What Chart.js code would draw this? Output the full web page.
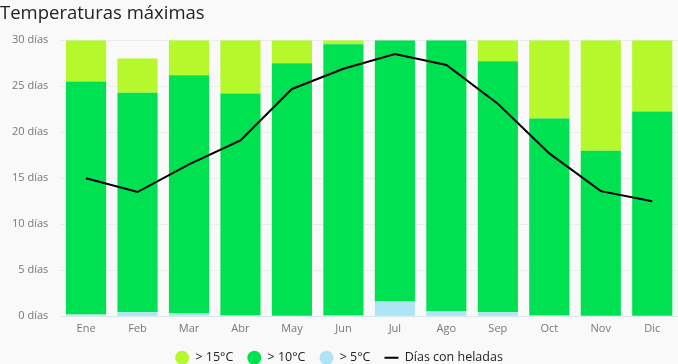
<!DOCTYPE html>
<html>
<head>
<meta charset="utf-8">
<script src="https://cdn.jsdelivr.net/npm/chart.js@4/dist/chart.umd.min.js"></script>
<style>
  html, body { margin: 0; padding: 0; background: #f9f9f9; }
  #wrap { width: 678px; height: 364px; }
</style>
</head>
<body>
<div id="wrap"><canvas id="graph" width="678" height="364"></canvas></div>
<script>
const months = ['Ene', 'Feb', 'Mar', 'Abr', 'May', 'Jun', 'Jul', 'Ago', 'Sep', 'Oct', 'Nov', 'Dic'];

// days per month, stacked from bottom
const over5 = [0.2, 0.45, 0.3, 0.1, 0, 0.1, 1.6, 0.55, 0.45, 0.1, 0, 0];
const over10 = [25.3, 23.85, 25.9, 24.1, 27.5, 29.45, 28.4, 29.45, 27.25, 21.4, 18.0, 22.25];
const over15 = [4.5, 3.7, 3.8, 5.8, 2.5, 0.45, 0, 0, 2.3, 8.5, 12.0, 7.75];
const frostDays = [15.0, 13.5, 16.5, 19.1, 24.7, 26.9, 28.5, 27.3, 23.1, 17.7, 13.6, 12.5];

const legendOrder = ['> 15°C', '> 10°C', '> 5°C', 'Días con heladas'];

const config = {
  type: 'bar',
  data: {
    labels: months,
    datasets: [
      {
        label: '> 5°C',
        backgroundColor: '#aee5f5',
        data: over5,
        stack: 'temp',
        order: 1,
        pointStyle: 'circle'
      }, {
        label: '> 10°C',
        backgroundColor: '#00e151',
        data: over10,
        stack: 'temp',
        order: 1,
        pointStyle: 'circle'
      }, {
        label: '> 15°C',
        backgroundColor: '#b5f82b',
        data: over15,
        stack: 'temp',
        order: 1,
        pointStyle: 'circle'
      }, {
        type: 'line',
        label: 'Días con heladas',
        borderColor: '#000',
        backgroundColor: '#000',
        borderWidth: 2,
        data: frostDays,
        fill: false,
        pointRadius: 0,
        tension: 0,
        stack: 'frost',
        order: 0,
        pointStyle: 'line'
      }
    ]
  },
  options: {
    responsive: false,
    animation: false,
    layout: { padding: { left: 0, right: 0, top: 0, bottom: -10 } },
    datasets: {
      bar: { categoryPercentage: 1, barPercentage: 0.78, borderWidth: 0 }
    },
    scales: {
      x: {
        stacked: true,
        grid: { display: false, drawTicks: false },
        border: { color: '#d8e6ee', width: 1 },
        ticks: { color: '#777', font: { family: 'Open Sans', size: 11 }, padding: 6 },
        afterFit: (scale) => { scale.height -= 4; }
      },
      y: {
        stacked: true,
        min: 0,
        max: 30,
        grid: { color: '#ececec', drawTicks: false },
        border: { display: false },
        ticks: {
          stepSize: 5,
          color: '#777',
          padding: 12,
          font: { family: 'Open Sans', size: 11 },
          callback: (v) => v + ' días'
        }
      }
    },
    plugins: {
      title: {
        display: true,
        text: 'Temperaturas máximas',
        align: 'start',
        color: '#222',
        font: { family: 'Open Sans', size: 18.5, weight: 'normal' },
        padding: { top: 3, bottom: 15 }
      },
      legend: {
        position: 'bottom',
        labels: {
          usePointStyle: true,
          boxHeight: 10,
          pointStyleWidth: 14,
          color: '#222',
          padding: 14,
          font: { family: 'Open Sans', size: 12.5 },
          sort: (a, b) => legendOrder.indexOf(a.text) - legendOrder.indexOf(b.text)
        }
      },
      tooltip: { enabled: false }
    }
  }
};

new Chart(document.getElementById('graph').getContext('2d'), config);
</script>
</body>
</html>
